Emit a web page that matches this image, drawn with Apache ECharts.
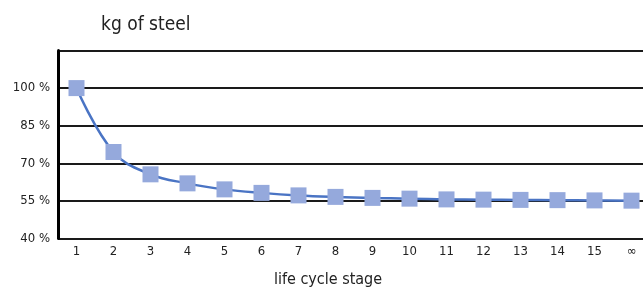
<!DOCTYPE html>
<html>
<head>
<meta charset="utf-8">
<script src="https://cdn.jsdelivr.net/npm/echarts@6/dist/echarts.min.js"></script>
<style>
html,body{margin:0;padding:0;background:#fff;}
#chart{width:643px;height:289px;}
</style>
</head>
<body>
<div id="chart"></div>
<script>
var stages = ['1','2','3','4','5','6','7','8','9','10','11','12','13','14','15','∞'];
var steel = [100, 74.5, 65.6, 62, 59.6, 58.2, 57.2, 56.6, 56.2, 55.9, 55.6, 55.5, 55.4, 55.3, 55.2, 55.1];
var yMin = 40, yMax = 115, yStep = 15;

var font = '"Liberation Sans Narrow","DejaVu Sans Condensed",sans-serif';
var chart = echarts.init(document.getElementById('chart'));
var option = {
	animation: false,
	title: {
		text: 'kg of steel',
		left: 96,
		top: 11,
		textStyle: { fontFamily: font, fontSize: 19, fontWeight: 'normal', color: '#222' }
	},
	grid: { left: 58, right: -7, top: 50.5, bottom: 50.5, outerBoundsMode: 'none', containLabel: false },
	xAxis: {
		type: 'category',
		data: stages,
		boundaryGap: true,
		name: 'life cycle stage',
		nameLocation: 'middle',
		nameGap: 33,
		//网格右侧超出画布，标题需向左偏移
		nameTextStyle: { fontFamily: font, fontSize: 16, color: '#222', padding: [0, 52, 0, 0] },
		axisLine: { show: false },
		axisTick: { show: false },
		axisLabel: { fontFamily: font, fontSize: 13, color: '#222', margin: 7 }
	},
	yAxis: {
		type: 'value',
		min: yMin,
		max: yMax,
		interval: yStep,
		axisLine: { show: true, lineStyle: { color: '#000', width: 3 } },
		axisTick: { show: false },
		axisLabel: {
			fontFamily: font, fontSize: 13, color: '#222', margin: 8,
			formatter: function(v){ return v >= yMax ? '' : v + ' %'; }
		},
		splitLine: { lineStyle: { color: '#1a1a1a', width: 2 } }
	},
	series: [{
		type: 'line',
		data: steel,
		smooth: 0.4,
		symbol: 'rect',
		symbolSize: 16,
		lineStyle: { color: '#4a74c4', width: 2.5 },
		itemStyle: { color: '#95a9dc' },
		z: 5
	}]
};
chart.setOption(option);
</script>
</body>
</html>
